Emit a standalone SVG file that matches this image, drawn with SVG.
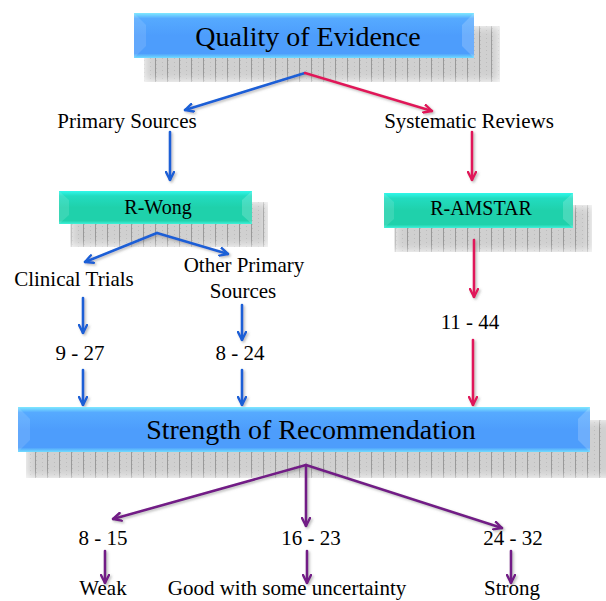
<svg xmlns="http://www.w3.org/2000/svg" width="606" height="601" viewBox="0 0 606 601">
<style>
text{fill:#000;text-anchor:middle}
.big{font-size:28px}
.mid{font-size:21px}
.box{font-size:20px}
.c{fill:none;stroke-width:2.6;stroke-linecap:round}
.blue{stroke:#1a5fd6}
.red{stroke:#e0195a}
.pur{stroke:#721b86}
.shadow{fill:url(#grid);filter:url(#soft)}
.bevL{fill:#ffffff;opacity:0.12}
.bevR{fill:#ffffff;opacity:0.18}
</style>
<defs>
<pattern id="grid" width="12" height="4" patternUnits="userSpaceOnUse">
<rect width="12" height="4" fill="#d0d0d0"/>
<rect x="0" y="0" width="1" height="1" fill="#bcbcbc"/>
<rect x="6" y="2" width="1" height="1" fill="#bcbcbc"/>
<line x1="11.5" y1="0" x2="11.5" y2="4" stroke="#999999" stroke-width="1"/>
</pattern>
<filter id="soft" x="-10%" y="-30%" width="120%" height="160%">
<feGaussianBlur in="SourceAlpha" stdDeviation="5" result="b"/>
<feComposite in="SourceGraphic" in2="b" operator="in"/>
</filter>
<filter id="ds" x="-20%" y="-20%" width="140%" height="140%">
<feDropShadow dx="1.5" dy="1.5" stdDeviation="1.2" flood-color="#777" flood-opacity="0.5"/>
</filter>
<linearGradient id="gBlue" x1="0" y1="0" x2="0" y2="1">
<stop offset="0" stop-color="#7fe9ff"/>
<stop offset="0.12" stop-color="#56aaff"/>
<stop offset="0.5" stop-color="#4d9dfc"/>
<stop offset="0.9" stop-color="#4d9dfc"/>
<stop offset="1" stop-color="#72ddff"/>
</linearGradient>
<linearGradient id="gTeal" x1="0" y1="0" x2="0" y2="1">
<stop offset="0" stop-color="#2ff8ea"/>
<stop offset="0.15" stop-color="#22dcc0"/>
<stop offset="0.5" stop-color="#1fd1ab"/>
<stop offset="0.9" stop-color="#1fd1ab"/>
<stop offset="1" stop-color="#3ff2da"/>
</linearGradient>
<marker id="aB" viewBox="0 0 10 10" refX="9" refY="5" markerWidth="10" markerHeight="10" markerUnits="userSpaceOnUse" orient="auto">
<path d="M1,1 L9,5 L1,9" fill="none" stroke="#1a5fd6" stroke-width="2.4" stroke-linecap="round" stroke-linejoin="round"/>
</marker>
<marker id="aR" viewBox="0 0 10 10" refX="9" refY="5" markerWidth="10" markerHeight="10" markerUnits="userSpaceOnUse" orient="auto">
<path d="M1,1 L9,5 L1,9" fill="none" stroke="#e0195a" stroke-width="2.4" stroke-linecap="round" stroke-linejoin="round"/>
</marker>
<marker id="aP" viewBox="0 0 10 10" refX="9" refY="5" markerWidth="10" markerHeight="10" markerUnits="userSpaceOnUse" orient="auto">
<path d="M1,1 L9,5 L1,9" fill="none" stroke="#721b86" stroke-width="2.4" stroke-linecap="round" stroke-linejoin="round"/>
</marker>
</defs>
<rect width="606" height="601" fill="#ffffff"/>

<g id="shadows">
<rect class="shadow" x="144" y="26" width="356" height="56"/>
<rect class="shadow" x="26" y="420" width="590" height="58"/>
<rect class="shadow" x="70" y="202" width="198" height="45"/>
<rect class="shadow" x="394" y="205" width="198" height="47"/>
</g>

<g id="connectors" filter="url(#ds)">
<line class="c blue" x1="305" y1="73" x2="185" y2="110" marker-end="url(#aB)"/>
<line class="c red" x1="305" y1="73" x2="432" y2="111" marker-end="url(#aR)"/>
<line class="c blue" x1="170" y1="132" x2="170" y2="180" marker-end="url(#aB)"/>
<line class="c red" x1="472" y1="132" x2="472" y2="180" marker-end="url(#aR)"/>
<line class="c blue" x1="157" y1="233" x2="85" y2="262" marker-end="url(#aB)"/>
<line class="c blue" x1="157" y1="233" x2="228" y2="254" marker-end="url(#aB)"/>
<line class="c blue" x1="83" y1="298" x2="83" y2="333" marker-end="url(#aB)"/>
<line class="c blue" x1="242" y1="305" x2="242" y2="340" marker-end="url(#aB)"/>
<line class="c red" x1="474" y1="240" x2="474" y2="297" marker-end="url(#aR)"/>
<line class="c blue" x1="83" y1="370" x2="83" y2="405" marker-end="url(#aB)"/>
<line class="c blue" x1="242" y1="370" x2="242" y2="405" marker-end="url(#aB)"/>
<line class="c red" x1="473" y1="340" x2="473" y2="405" marker-end="url(#aR)"/>
<line class="c pur" x1="306" y1="465" x2="113" y2="519" marker-end="url(#aP)"/>
<line class="c pur" x1="306" y1="465" x2="306" y2="526" marker-end="url(#aP)"/>
<line class="c pur" x1="306" y1="465" x2="502" y2="528" marker-end="url(#aP)"/>
<line class="c pur" x1="105" y1="551" x2="105" y2="583" marker-end="url(#aP)"/>
<line class="c pur" x1="307" y1="551" x2="307" y2="583" marker-end="url(#aP)"/>
<line class="c pur" x1="511" y1="551" x2="511" y2="583" marker-end="url(#aP)"/>
</g>

<g font-family="'Liberation Serif', Tinos, 'Times New Roman', 'DejaVu Serif', serif">
<g id="quality">
<rect x="134" y="13" width="340" height="45" fill="url(#gBlue)"/>
<polygon class="bevL" points="134,13 146,25 146,46 134,58"/>
<polygon class="bevR" points="474,13 462,25 462,46 474,58"/>
<text class="big" x="308" y="46">Quality of Evidence</text>
</g>

<g id="primary"><text class="mid" x="127" y="128">Primary Sources</text></g>
<g id="systematic"><text class="mid" x="469" y="128">Systematic Reviews</text></g>

<g id="rwong">
<rect x="59" y="191" width="193" height="33" fill="url(#gTeal)"/>
<polygon class="bevL" points="59,191 69,200 69,215 59,224"/>
<polygon class="bevR" points="252,191 242,200 242,215 252,224"/>
<text class="box" x="158" y="214">R-Wong</text>
</g>

<g id="ramstar">
<rect x="384" y="193" width="189" height="35" fill="url(#gTeal)"/>
<polygon class="bevL" points="384,193 394,202 394,219 384,228"/>
<polygon class="bevR" points="573,193 563,202 563,219 573,228"/>
<text class="box" x="481" y="215">R-AMSTAR</text>
</g>

<g id="clinical"><text class="mid" x="74" y="286">Clinical Trials</text></g>
<g id="other"><text class="mid" x="244" y="272">Other Primary</text><text class="mid" x="243" y="298">Sources</text></g>
<g id="s927"><text class="mid" x="80" y="360">9 - 27</text></g>
<g id="s824"><text class="mid" x="240" y="360">8 - 24</text></g>
<g id="s1144"><text class="mid" x="470" y="329">11 - 44</text></g>

<g id="strength">
<rect x="18" y="407" width="572" height="45" fill="url(#gBlue)"/>
<polygon class="bevL" points="18,407 30,419 30,440 18,452"/>
<polygon class="bevR" points="590,407 578,419 578,440 590,452"/>
<text class="big" x="311" y="439">Strength of Recommendation</text>
</g>

<g id="s815"><text class="mid" x="103" y="545">8 - 15</text></g>
<g id="s1623"><text class="mid" x="311" y="545">16 - 23</text></g>
<g id="s2432"><text class="mid" x="513" y="545">24 - 32</text></g>
<g id="weak"><text class="mid" x="103" y="595">Weak</text></g>
<g id="good"><text class="mid" x="287" y="595">Good with some uncertainty</text></g>
<g id="strong"><text class="mid" x="512" y="595">Strong</text></g>
</g>
</svg>
